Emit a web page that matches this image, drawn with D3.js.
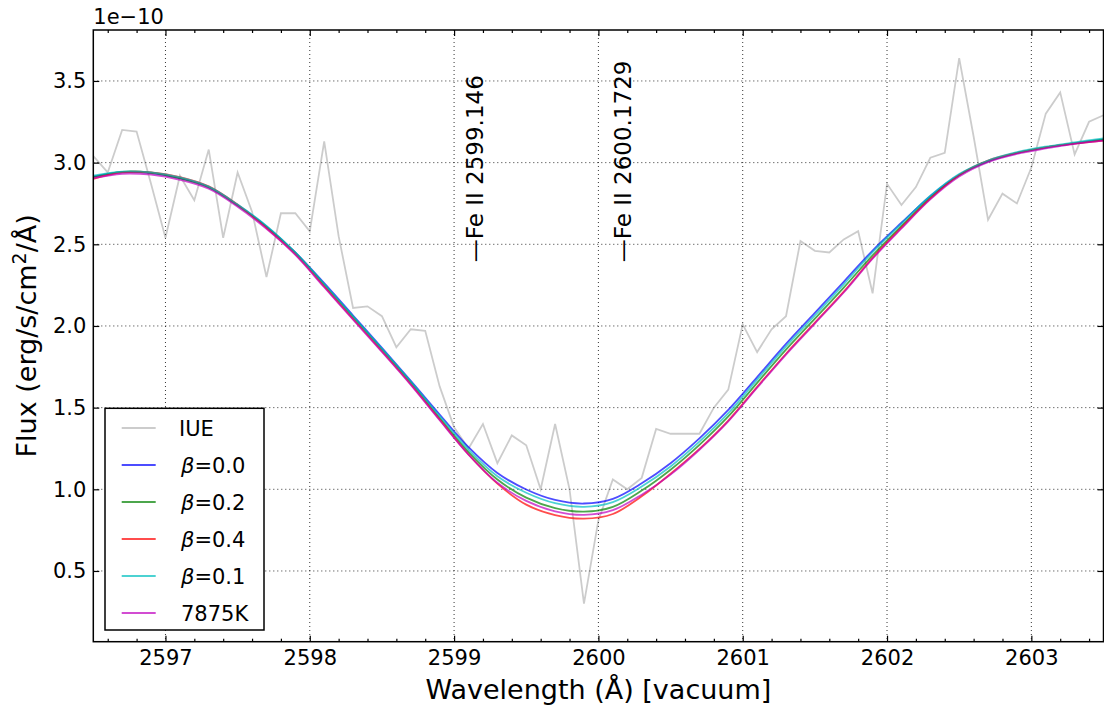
<!DOCTYPE html>
<html>
<head>
<meta charset="utf-8">
<script src="https://cdn.jsdelivr.net/npm/d3@7"></script>
<style>
  body { margin: 0; background: #fff; }
  text { font-family: "DejaVu Sans", sans-serif; }
</style>
</head>
<body>
<div id="chart"></div>
<script>
// IUE spectrum (units of 1e-10 erg/s/cm2/A)
const iueWave = [2596.5, 2596.6, 2596.7, 2596.8, 2596.9, 2597.0, 2597.1, 2597.2, 2597.3, 2597.4,
  2597.5, 2597.6, 2597.7, 2597.8, 2597.9, 2598.0, 2598.1, 2598.2, 2598.3, 2598.4,
  2598.5, 2598.6, 2598.7, 2598.8, 2598.9, 2599.0, 2599.1, 2599.2, 2599.3, 2599.4,
  2599.5, 2599.6, 2599.7, 2599.8, 2599.9, 2600.0, 2600.1, 2600.2, 2600.3, 2600.4,
  2600.5, 2600.6, 2600.7, 2600.8, 2600.9, 2601.0, 2601.1, 2601.2, 2601.3, 2601.4,
  2601.5, 2601.6, 2601.7, 2601.8, 2601.9, 2602.0, 2602.1, 2602.2, 2602.3, 2602.4,
  2602.5, 2602.6, 2602.7, 2602.8, 2602.9, 2603.0, 2603.1, 2603.2, 2603.3, 2603.4, 2603.5];
const iueFlux = [3.04, 2.94, 3.20, 3.19, 2.87, 2.54, 2.92, 2.77, 3.08, 2.54,
  2.94, 2.70, 2.30, 2.69, 2.69, 2.58, 3.13, 2.55, 2.11, 2.12,
  2.06, 1.87, 1.98, 1.97, 1.63, 1.38, 1.25, 1.40, 1.16, 1.33,
  1.27, 1.00, 1.40, 1.00, 0.30, 0.81, 1.06, 1.00, 1.07, 1.37,
  1.34, 1.34, 1.34, 1.50, 1.61, 2.01, 1.84, 1.98, 2.06, 2.52,
  2.46, 2.45, 2.53, 2.58, 2.20, 2.87, 2.74, 2.85, 3.03, 3.06,
  3.64, 3.16, 2.65, 2.81, 2.75, 2.97, 3.30, 3.43, 3.05, 3.25, 3.29];

// model spectra
const modelWave = [2596.5, 2596.7, 2596.9, 2597.1, 2597.3, 2597.5, 2597.7, 2597.9, 2598.1, 2598.3,
  2598.5, 2598.7, 2598.9, 2599.1, 2599.3, 2599.5, 2599.7, 2599.9, 2600.1, 2600.3,
  2600.5, 2600.7, 2600.9, 2601.1, 2601.3, 2601.5, 2601.7, 2601.9, 2602.1, 2602.3,
  2602.5, 2602.7, 2602.9, 2603.1, 2603.3, 2603.5];
const beta00 = [2.915, 2.942, 2.936, 2.905, 2.850, 2.740, 2.610, 2.450, 2.262, 2.064,
  1.866, 1.664, 1.458, 1.258, 1.100, 0.999, 0.935, 0.913, 0.942, 1.037,
  1.160, 1.312, 1.486, 1.687, 1.890, 2.080, 2.270, 2.462, 2.632, 2.795,
  2.925, 3.008, 3.058, 3.092, 3.118, 3.140];
const beta02 = [2.912, 2.944, 2.938, 2.903, 2.848, 2.738, 2.607, 2.447, 2.252, 2.054,
  1.856, 1.654, 1.438, 1.228, 1.060, 0.949, 0.885, 0.863, 0.892, 0.992,
  1.120, 1.272, 1.446, 1.652, 1.855, 2.045, 2.235, 2.432, 2.612, 2.785,
  2.923, 3.009, 3.060, 3.094, 3.119, 3.142];
const beta04 = [2.900, 2.940, 2.940, 2.912, 2.855, 2.743, 2.600, 2.440, 2.242, 2.044,
  1.846, 1.644, 1.428, 1.213, 1.035, 0.906, 0.842, 0.820, 0.849, 0.957,
  1.095, 1.247, 1.421, 1.627, 1.830, 2.020, 2.210, 2.417, 2.602, 2.780,
  2.925, 3.013, 3.060, 3.094, 3.116, 3.135];
const beta01 = [2.920, 2.945, 2.940, 2.910, 2.853, 2.743, 2.613, 2.450, 2.257, 2.059,
  1.861, 1.659, 1.448, 1.243, 1.080, 0.979, 0.915, 0.893, 0.922, 1.017,
  1.140, 1.292, 1.466, 1.672, 1.875, 2.065, 2.255, 2.452, 2.627, 2.797,
  2.930, 3.013, 3.064, 3.098, 3.124, 3.148];
const t7875 = [2.905, 2.932, 2.926, 2.895, 2.840, 2.730, 2.595, 2.435, 2.237, 2.039,
  1.841, 1.639, 1.423, 1.213, 1.040, 0.929, 0.865, 0.843, 0.872, 0.967,
  1.090, 1.242, 1.416, 1.622, 1.825, 2.015, 2.205, 2.412, 2.597, 2.775,
  2.915, 3.003, 3.053, 3.087, 3.115, 3.135];

const seriesNames = ["\u03b2=0.0", "\u03b2=0.2", "\u03b2=0.4", "\u03b2=0.1", "7875K"];
const seriesColors = ["#0000ff", "#008000", "#ff0000", "#00bfbf", "#bf00bf"];
const seriesValues = [beta00, beta02, beta04, beta01, t7875];

const xTicks = [2597, 2598, 2599, 2600, 2601, 2602, 2603];
const yTicks = [0.5, 1.0, 1.5, 2.0, 2.5, 3.0, 3.5];
const lineIds = [{ wave: 2599.146, label: "\u2014Fe II 2599.146" },
                 { wave: 2600.1729, label: "\u2014Fe II 2600.1729" }];

const W = 1104, H = 710;
const margin = { top: 30, right: 0.5, bottom: 68.3, left: 93.3 };
const width = W - margin.left - margin.right;
const height = H - margin.top - margin.bottom;

const svgRoot = d3.select("#chart").append("svg")
  .attr("width", W).attr("height", H);
const svg = svgRoot.append("g")
  .attr("transform", `translate(${margin.left},${margin.top})`);

const x = d3.scaleLinear().domain([2596.5, 2603.5]).range([0, width]);
const y = d3.scaleLinear().domain([0.067, 3.812]).range([height, 0]);

svgRoot.append("defs").append("clipPath").attr("id", "clip")
  .append("rect").attr("width", width).attr("height", height);

// grid
const grid = svg.append("g").attr("class", "grid");
grid.selectAll(".gx").data(xTicks).enter().append("line")
  .attr("x1", d => x(d)).attr("x2", d => x(d)).attr("y1", 0).attr("y2", height);
grid.selectAll(".gy").data(yTicks).enter().append("line")
  .attr("y1", d => y(d)).attr("y2", d => y(d)).attr("x1", 0).attr("x2", width);
grid.selectAll("line").attr("stroke", "#000").attr("stroke-width", 0.8)
  .attr("stroke-dasharray", "1,3");

// spectra
const plot = svg.append("g").attr("clip-path", "url(#clip)");
const line = d3.line().x(d => x(d[0])).y(d => y(d[1]));

plot.append("path")
  .datum(iueWave.map((w, i) => [w, iueFlux[i]]))
  .attr("d", line)
  .attr("fill", "none").attr("stroke", "#000").attr("stroke-opacity", 0.2)
  .attr("stroke-width", 1.8);

const smooth = d3.line().x(d => x(d[0])).y(d => y(d[1])).curve(d3.curveCatmullRom);
seriesValues.forEach((vals, k) => {
  plot.append("path")
    .datum(modelWave.map((w, i) => [w, vals[i]]))
    .attr("d", smooth)
    .attr("fill", "none").attr("stroke", seriesColors[k]).attr("stroke-opacity", 0.7)
    .attr("stroke-width", 1.8);
});

// line identifications
lineIds.forEach(d => {
  svg.append("text")
    .attr("transform", `translate(${x(d.wave)},${y(2.39)}) rotate(-90)`)
    .attr("dy", "0.35em")
    .attr("font-size", 23)
    .attr("fill", "#000")
    .text(d.label);
});

// axes
const fmt = d3.format(".1f");
const minorX = d3.range(2596.6, 2603.45, 0.2).filter(v => Math.abs(v - Math.round(v)) > 0.01);

const styleAxis = g => {
  g.select(".domain").remove();
  g.selectAll(".tick line").attr("stroke", "#000").attr("stroke-width", 1.2);
  g.selectAll("text").attr("font-size", 21).attr("font-family", "DejaVu Sans").attr("fill", "#000");
};

svg.append("g").attr("transform", `translate(0,${height})`)
  .call(d3.axisBottom(x).tickValues(xTicks).tickFormat(d3.format("d")).tickSize(-6).tickPadding(8.3))
  .call(styleAxis);
svg.append("g").attr("transform", `translate(0,${height})`)
  .call(d3.axisBottom(x).tickValues(minorX).tickFormat("").tickSize(-3))
  .call(styleAxis);
svg.append("g")
  .call(d3.axisTop(x).tickValues(xTicks).tickFormat("").tickSize(-6))
  .call(styleAxis);
svg.append("g")
  .call(d3.axisTop(x).tickValues(minorX).tickFormat("").tickSize(-3))
  .call(styleAxis);
svg.append("g")
  .call(d3.axisLeft(y).tickValues(yTicks).tickFormat(fmt).tickSize(-6).tickPadding(7))
  .call(styleAxis);
svg.append("g").attr("transform", `translate(${width},0)`)
  .call(d3.axisRight(y).tickValues(yTicks).tickFormat("").tickSize(-6))
  .call(styleAxis);

// frame
svg.append("rect").attr("width", width).attr("height", height)
  .attr("fill", "none").attr("stroke", "#000").attr("stroke-width", 1.5);

// offset text
svgRoot.append("text").attr("x", margin.left).attr("y", 24)
  .attr("font-size", 21).text("1e\u221210");

// axis labels
svgRoot.append("text")
  .attr("x", margin.left + width / 2).attr("y", 699)
  .attr("text-anchor", "middle").attr("font-size", 27)
  .text("Wavelength (\u00c5) [vacuum]");

const yl = svgRoot.append("text")
  .attr("transform", `translate(36,${margin.top + height / 2}) rotate(-90)`)
  .attr("text-anchor", "middle").attr("font-size", 27);
yl.append("tspan").text("Flux (erg/s/cm");
yl.append("tspan").attr("font-size", 19).attr("dy", -10).text("2");
yl.append("tspan").attr("dy", 10).text("/\u00c5)");

// legend
const legend = svgRoot.append("g");
legend.append("rect").attr("x", 105).attr("y", 408.3).attr("width", 159).attr("height", 221.7)
  .attr("fill", "#fff").attr("stroke", "#000").attr("stroke-width", 1.5);
const legItems = [{ name: "IUE", color: "#000", op: 0.2 }]
  .concat(seriesNames.map((n, i) => ({ name: n, color: seriesColors[i], op: 0.7 })));
const rowH = 37;
legItems.forEach((d, i) => {
  const cy = 428 + i * rowH;
  legend.append("line").attr("x1", 121.7).attr("x2", 155.7).attr("y1", cy).attr("y2", cy)
    .attr("stroke", d.color).attr("stroke-opacity", d.op).attr("stroke-width", 1.8);
  const t = legend.append("text").attr("x", i === 0 ? 179 : 181).attr("y", cy)
    .attr("dy", "0.36em").attr("font-size", 21);
  if (d.name.startsWith("\u03b2")) {
    t.append("tspan").attr("font-style", "italic").text("\u03b2");
    t.append("tspan").text(d.name.slice(1));
  } else {
    t.text(d.name);
  }
});
</script>
</body>
</html>
